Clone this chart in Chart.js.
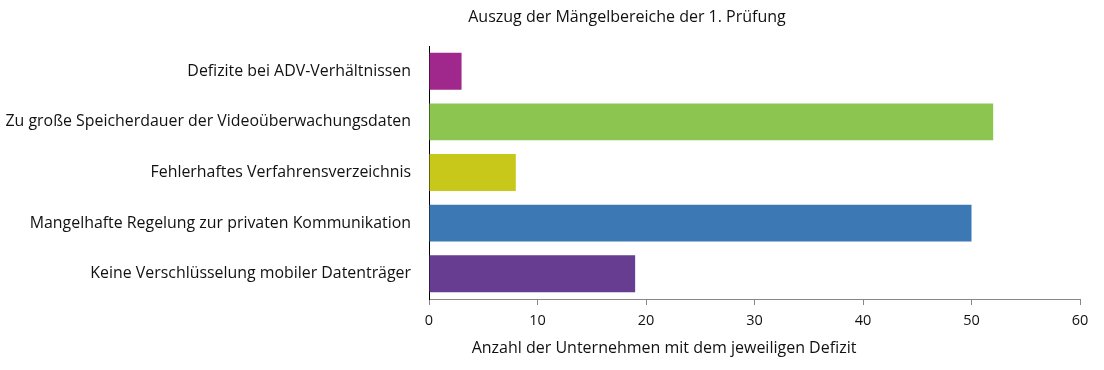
<!DOCTYPE html>
<html>
<head>
<meta charset="utf-8">
<script src="https://cdn.jsdelivr.net/npm/chart.js@4"></script>
<style>
  html, body { margin: 0; padding: 0; background: #fff; }
  #wrap { width: 1104px; height: 370px; }
</style>
</head>
<body>
<div id="wrap"><canvas id="chart"></canvas></div>
<script>
// Data
const categories = [
  'Defizite bei ADV-Verhältnissen',
  'Zu große Speicherdauer der Videoüberwachungsdaten',
  'Fehlerhaftes Verfahrensverzeichnis',
  'Mangelhafte Regelung zur privaten Kommunikation',
  'Keine Verschlüsselung mobiler Datenträger'
];
const counts = [3, 52, 8, 50, 19];
const barColors = ['#A0288C', '#8CC650', '#C8C81A', '#3C78B4', '#663D91'];
const xTicks = [0, 10, 20, 30, 40, 50, 60];

const chartTitle = 'Auszug der Mängelbereiche der 1. Prüfung';
const xTitle = 'Anzahl der Unternehmen mit dem jeweiligen Defizit';

const FONT = "'Open Sans', 'DejaVu Sans', sans-serif";

// title and axis title sit off-centre in the original, so draw them by hand
const offsetTitles = {
  id: 'offsetTitles',
  afterDraw(chart) {
    const { ctx, chartArea } = chart;
    ctx.save();
    ctx.fillStyle = '#111';
    ctx.textAlign = 'center';
    ctx.textBaseline = 'middle';
    ctx.font = `16px ${FONT}`;
    ctx.fillText(chartTitle, chartArea.left + 198, 17);
    ctx.fillText(xTitle, chartArea.left + 235, 348);
    ctx.restore();
  }
};

new Chart(document.getElementById('chart'), {
  type: 'bar',
  data: {
    labels: categories,
    datasets: [{
      data: counts,
      backgroundColor: barColors,
      borderWidth: 0,
      barPercentage: 0.73,
      categoryPercentage: 1.0
    }]
  },
  options: {
    indexAxis: 'y',
    responsive: true,
    maintainAspectRatio: false,
    animation: false,
    layout: { padding: { left: 0, right: 24, top: 46, bottom: 0 } },
    plugins: {
      legend: { display: false },
      tooltip: { enabled: false },
      title: { display: false }
    },
    scales: {
      x: {
        min: 0, max: 60,
        afterBuildTicks: axis => { axis.ticks = xTicks.map(v => ({ value: v })); },
        afterFit: axis => { axis.height = 71; },
        grid: { display: true, drawOnChartArea: false, drawTicks: true, tickLength: 6, color: '#888' },
        border: { display: true, color: '#888', width: 1 },
        ticks: { color: '#111', font: { family: FONT, size: 14.5 }, padding: 7 }
      },
      y: {
        afterFit: axis => { axis.width = 429; },
        grid: { display: false, drawTicks: false },
        border: { display: true, color: '#000', width: 1 },
        ticks: { color: '#111', font: { family: FONT, size: 15.9 }, padding: 18 }
      }
    }
  },
  plugins: [offsetTitles]
});
</script>
</body>
</html>
